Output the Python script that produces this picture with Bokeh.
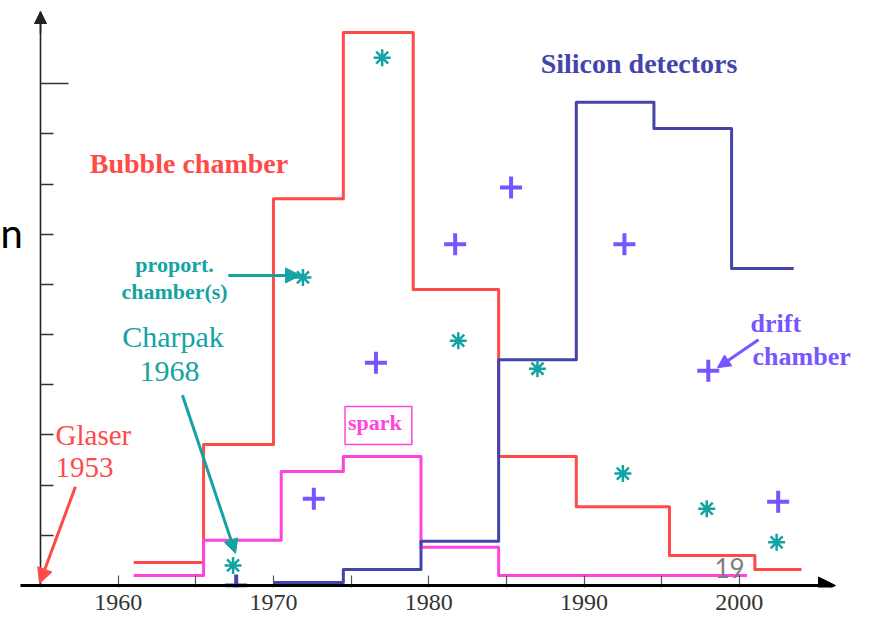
from bokeh.plotting import figure
from bokeh.models import Range1d, FixedTicker, Arrow, NormalHead, Label
from bokeh.embed import file_html
from bokeh.resources import INLINE

# ---------------- data (years / arbitrary usage units) ----------------
bubble_edges = [1961, 1965.5, 1970, 1974.5, 1979, 1984.5, 1989.5, 1995.5, 2001, 2004]
bubble_levels = [0.46, 2.81, 7.71, 11.02, 5.90, 2.57, 1.57, 0.60, 0.32]

spark_edges = [1961, 1965.5, 1970.5, 1974.5, 1979.5, 1984.5, 2000.5]
spark_levels = [0.20, 0.90, 2.27, 2.57, 0.76, 0.20]

silicon_edges = [1970, 1974.5, 1979.5, 1984.5, 1989.5, 1994.5, 1999.5, 2003.5]
silicon_levels = [0.06, 0.32, 0.88, 4.50, 9.63, 9.11, 6.32]

prop_years = [1967.4, 1971.9, 1977.0, 1981.9, 1987.0, 1992.5, 1997.9, 2002.4]
prop_values = [0.40, 6.14, 10.52, 4.88, 4.32, 2.23, 1.53, 0.86]

drift_years = [1972.6, 1976.6, 1981.7, 1985.3, 1992.6, 1998.0, 2002.5]
drift_values = [1.73, 4.44, 6.80, 7.93, 6.80, 4.28, 1.67]

early_plus_years = [1967.6]
early_plus_values = [0.0]

x_major_ticks = [1960, 1970, 1980, 1990, 2000]
x_minor_ticks = [1965, 1975, 1985, 1995]
y_major_ticks = [10]
y_minor_ticks = [1, 2, 3, 4, 5, 6, 7, 8, 9]

RED = "#ff4a4a"
BLUE = "#4444aa"
PINK = "#ff44dd"
TEAL = "#14a3a3"
PURPLE = "#7755ff"
SERIF = "Liberation Serif"

X0, X1 = 1952.424, 2008.445      # frame spans the full canvas width
Y0, Y1 = -0.04, 11.44
PX_PER_UNIT = 50.17

p = figure(width=870, height=621, output_backend="svg", toolbar_location=None,
           x_range=Range1d(X0, X1), y_range=Range1d(Y0, Y1),
           min_border_left=0, min_border_right=0, min_border_top=11, min_border_bottom=34)
p.outline_line_color = None
p.xgrid.visible = False
p.ygrid.visible = False
p.background_fill_color = "white"
p.border_fill_color = "white"

# x axis (ticks and labels from the axis; line drawn as an arrow below)
xa = p.xaxis[0]
xa.ticker = FixedTicker(ticks=x_major_ticks, minor_ticks=x_minor_ticks)
xa.axis_line_color = None
xa.major_tick_in = 12
xa.major_tick_out = 0
xa.minor_tick_in = 12
xa.minor_tick_out = 0
xa.major_tick_line_color = "#555555"
xa.minor_tick_line_color = "#555555"
xa.major_tick_line_width = 1.2
xa.minor_tick_line_width = 1.2
xa.major_label_text_font = SERIF
xa.major_label_text_font_size = "24px"
xa.major_label_text_color = "#333333"
xa.major_label_standoff = 7

# y axis
ya = p.yaxis[0]
ya.fixed_location = 1955
ya.ticker = FixedTicker(ticks=y_major_ticks, minor_ticks=y_minor_ticks)
ya.major_label_overrides = {10: ""}
ya.major_label_standoff = 0
ya.axis_line_width = 1.6
ya.axis_line_color = "#222222"
ya.major_tick_in = 28
ya.major_tick_out = 0
ya.minor_tick_in = 13
ya.minor_tick_out = 0
ya.major_tick_line_color = "#333333"
ya.minor_tick_line_color = "#333333"
ya.major_tick_line_width = 1.4
ya.minor_tick_line_width = 1.4

# step curves
p.step(bubble_edges, bubble_levels + [bubble_levels[-1]], mode="after",
       line_color=RED, line_width=3, line_join="round")
p.step(spark_edges, spark_levels + [spark_levels[-1]], mode="after",
       line_color=PINK, line_width=3, line_join="round")
p.step(silicon_edges, silicon_levels + [silicon_levels[-1]], mode="after",
       line_color=BLUE, line_width=3, line_join="round")

# markers
p.scatter(prop_years, prop_values, marker="asterisk", size=17,
          line_color=TEAL, line_width=2.5)
p.scatter(drift_years, drift_values, marker="cross", size=22,
          line_color=PURPLE, line_width=4)
p.scatter(early_plus_years, early_plus_values, marker="cross", size=22,
          line_color=BLUE, line_width=4)

# axis lines with arrow heads
p.add_layout(Arrow(x_start=1953.71, y_start=0, x_end=2006.19, y_end=0,
                   line_color="black", line_width=3,
                   end=NormalHead(size=17, fill_color="black", line_color="black")))
p.add_layout(Arrow(x_start=1955, y_start=11.0, x_end=1955, y_end=Y1,
                   line_color="#222222", line_width=1.6,
                   end=NormalHead(size=12, fill_color="#222222", line_color="#222222")))

# annotation arrows
def arrow(x0, y0, x1, y1, color, size=14):
    p.add_layout(Arrow(x_start=x0, y_start=y0, x_end=x1, y_end=y1,
                       line_color=color, line_width=3,
                       end=NormalHead(size=size, fill_color=color, line_color=color)))

arrow(1967.09, 6.18, 1971.74, 6.18, TEAL, 15)
arrow(1964.14, 3.79, 1967.56, 0.64, TEAL, 14)
arrow(1957.25, 1.97, 1954.94, 0.04, RED, 15)
arrow(2001.23, 4.90, 1998.59, 4.34, PURPLE, 13)

# texts (y given as the text baseline)
def label(x, y, text, color, size, bold=False, align="center", font=SERIF, **kw):
    px = float(size.replace("px", ""))
    p.add_layout(Label(x=x, y=y + 0.36 * px / PX_PER_UNIT, text=text, text_color=color,
                       text_font=font, text_font_size=size,
                       text_font_style="bold" if bold else "normal",
                       text_align=align, text_baseline="alphabetic", **kw))

label(1964.56, 8.21, "Bubble chamber", RED, "28px", bold=True)
label(1993.54, 10.20, "Silicon detectors", BLUE, "28px", bold=True)
label(1963.63, 6.24, "proport.", TEAL, "22px", bold=True)
label(1963.63, 5.70, "chamber(s)", TEAL, "22px", bold=True)
label(1963.53, 4.74, "Charpak", TEAL, "30px")
label(1963.30, 4.05, "1968", TEAL, "30px")
label(1955.97, 2.79, "Glaser", RED, "29px", align="left")
label(1955.97, 2.15, "1953", RED, "29px", align="left")
label(1976.76, 3.03, "spark", PINK, "22px", bold=True,
      border_line_color=PINK, border_line_width=1.5, padding=(3, 10, 3, 10))
label(2000.72, 5.04, "drift", PURPLE, "26px", bold=True, align="left")
label(2000.85, 4.38, "chamber", PURPLE, "26px", bold=True, align="left")
label(1999.37, 0.16, "19", "#7f7f7f", "26px", font="Lato")
label(1952.43, 6.74, "n", "black", "40px", align="left", font="Lato")

open("out.html", "w").write(file_html(p, INLINE))
